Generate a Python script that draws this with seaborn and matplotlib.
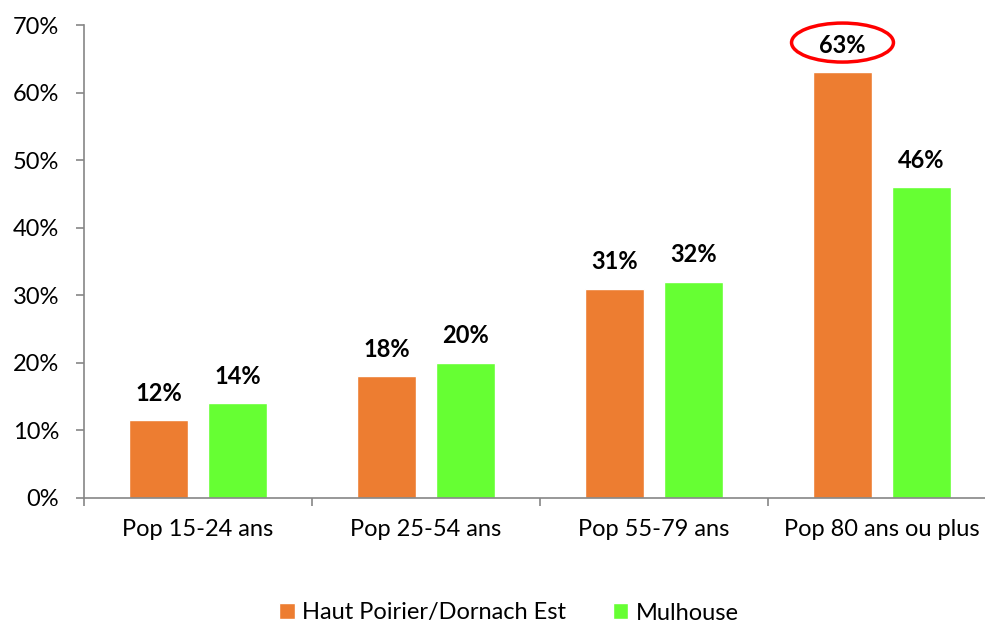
import matplotlib
matplotlib.use("Agg")
import matplotlib.pyplot as plt
from matplotlib.patches import Ellipse
from matplotlib.ticker import FixedLocator
import seaborn as sns
import pandas as pd

# values
categories = ["Pop 15-24 ans", "Pop 25-54 ans", "Pop 55-79 ans", "Pop 80 ans ou plus"]
series = ["Haut Poirier/Dornach Est", "Mulhouse"]
quartier = [11.5, 18, 31, 63]
mulhouse = [14, 20, 32, 46]
labels_quartier = ["12%", "18%", "31%", "63%"]
labels_mulhouse = ["14%", "20%", "32%", "46%"]
colors = ["#ED7D31", "#66FF33"]

df = pd.DataFrame({
    "cat": categories * 2,
    "serie": [series[0]] * 4 + [series[1]] * 4,
    "val": quartier + mulhouse,
    "lab": labels_quartier + labels_mulhouse,
})

sns.set_style("white")
plt.rcParams["font.family"] = ["Lato", "DejaVu Sans"]
plt.rcParams["text.color"] = "black"
plt.rcParams["xtick.labelcolor"] = "black"
plt.rcParams["ytick.labelcolor"] = "black"

fig = plt.figure(figsize=(9.85, 6.25), dpi=100)
ax = fig.add_axes([84 / 985, 1 - 498 / 625, 912 / 985, 473 / 625])

sns.barplot(data=df, x="cat", y="val", hue="serie", palette=colors,
            width=0.693, gap=0.25, saturation=1, ax=ax, legend=True)

# data labels
for cont, labs in zip(ax.containers, [labels_quartier, labels_mulhouse]):
    for bar, lab in zip(cont, labs):
        ax.annotate(lab, (bar.get_x() + bar.get_width() / 2, bar.get_height()),
                    xytext=(0, 19.5), textcoords="offset points",
                    ha="center", va="center", fontsize=17, fontweight="bold",
                    color="black")

# red ellipse around the 63% label
b = ax.containers[0][3]
ax.add_patch(Ellipse((b.get_x() + b.get_width() / 2, 67.4), 0.447, 5.77,
                     fill=False, edgecolor="#FF0000", lw=2.5, clip_on=False))

ax.set_ylim(0, 70)
ax.set_xlim(-0.5, 3.5)
ax.set_yticks(range(0, 71, 10))
ax.set_yticklabels([f"{v}%" for v in range(0, 71, 10)])
ax.set_xlabel("")
ax.set_ylabel("")

for s in ["top", "right"]:
    ax.spines[s].set_visible(False)
for s in ["left", "bottom"]:
    ax.spines[s].set_color("#868686")
    ax.spines[s].set_linewidth(1.2)

ax.tick_params(axis="y", left=True, length=6, width=1.2, color="#868686",
               pad=12, labelsize=17)
ax.tick_params(axis="x", which="major", bottom=False, length=0, pad=15, labelsize=17)
ax.xaxis.set_minor_locator(FixedLocator([-0.5, 0.5, 1.5, 2.5, 3.5]))
ax.tick_params(axis="x", which="minor", bottom=True, length=6, width=1.2,
               color="#868686")

handles, lbls = ax.get_legend_handles_labels()
ax.get_legend().remove()
fig.legend(handles, lbls, loc="center", bbox_to_anchor=(509 / 985, 1 - 613 / 625),
           ncol=2, frameon=False, fontsize=17, handlelength=0.65, handleheight=0.65,
           handletextpad=0.3, columnspacing=2.0)

fig.savefig("out.png", dpi=100)
